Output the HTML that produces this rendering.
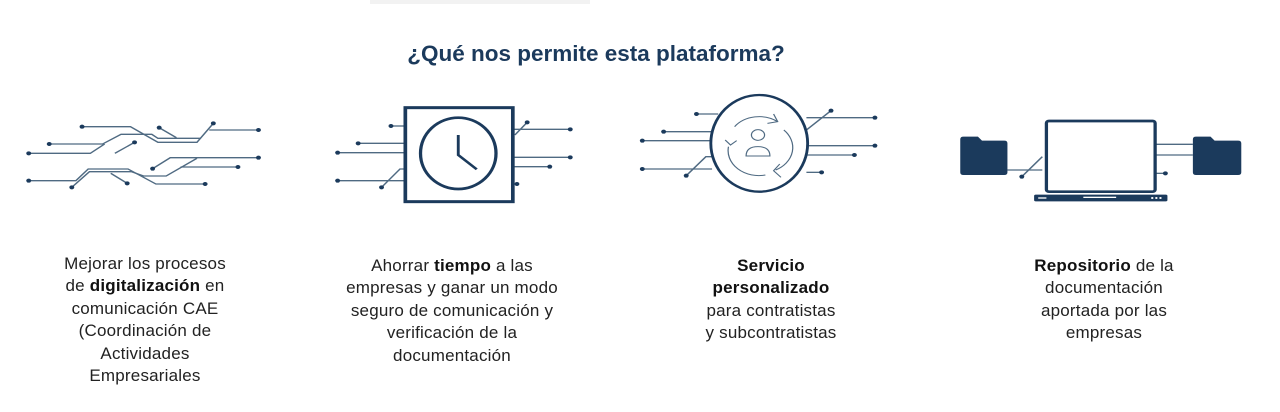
<!DOCTYPE html>
<html><head><meta charset="utf-8"><style>
body{margin:0;width:1280px;height:412px;background:#fff;position:relative;overflow:hidden;font-family:"Liberation Sans",sans-serif;}
.t{position:absolute;text-align:center;font-size:17px;line-height:22.4px;color:#222;letter-spacing:0.2px}
.t b{color:#111}
h1{position:absolute;top:41px;left:0;width:1192px;text-align:center;margin:0;font-size:22.5px;color:#1b3a5c;font-weight:bold;}
svg{position:absolute;}
</style></head><body>
<div style="position:absolute;left:370px;top:0;width:220px;height:4px;background:#f2f2f2"></div>
<h1>¿Qué nos permite esta plataforma?</h1>

<svg style="left:0;top:90px" width="640" height="130" viewBox="0 0 1560 390" preserveAspectRatio="none">
<g fill="none" stroke="#4f6a82" stroke-width="4">
<polyline points="200,110 318,110 385,157 480,157 520,100"/>
<polyline points="120,162 250,162 295,133 370,133 385,145 490,145"/>
<polyline points="70,190 220,190 255,162"/>
<polyline points="280,190 328,157"/>
<polyline points="388,113 430,143"/>
<polyline points="510,120 630,120"/>
<polyline points="70,272 185,272 215,237 312,237 380,282 500,282"/>
<polyline points="175,292 218,245 320,245 350,258 405,258 480,205"/>
<polyline points="372,236 415,203 630,203"/>
<polyline points="440,231 580,231"/>
<polyline points="270,250 310,280"/>
<polyline points="953,108 988,108"/><polyline points="873,160 988,160"/><polyline points="823,188 988,188"/>
<polyline points="823,272 988,272"/><polyline points="930,292 975,237 988,237"/>
<polyline points="1255,135 1285,97"/><polyline points="1250,118 1390,118"/><polyline points="1250,202 1390,202"/><polyline points="1250,230 1340,230"/>
</g>
<g fill="#1b3a5c">
<ellipse cx="200" cy="110" rx="6" ry="6"/><ellipse cx="520" cy="100" rx="6" ry="6"/><ellipse cx="120" cy="162" rx="6" ry="6"/><ellipse cx="70" cy="190" rx="6" ry="6"/><ellipse cx="328" cy="157" rx="6" ry="6"/><ellipse cx="388" cy="113" rx="6" ry="6"/><ellipse cx="630" cy="120" rx="6" ry="6"/><ellipse cx="70" cy="272" rx="6" ry="6"/><ellipse cx="500" cy="282" rx="6" ry="6"/><ellipse cx="175" cy="292" rx="6" ry="6"/><ellipse cx="372" cy="236" rx="6" ry="6"/><ellipse cx="630" cy="203" rx="6" ry="6"/><ellipse cx="580" cy="231" rx="6" ry="6"/><ellipse cx="310" cy="280" rx="6" ry="6"/>
<ellipse cx="953" cy="108" rx="6" ry="6"/><ellipse cx="873" cy="160" rx="6" ry="6"/><ellipse cx="823" cy="188" rx="6" ry="6"/><ellipse cx="823" cy="272" rx="6" ry="6"/><ellipse cx="930" cy="292" rx="6" ry="6"/><ellipse cx="1285" cy="97" rx="6" ry="6"/><ellipse cx="1390" cy="118" rx="6" ry="6"/><ellipse cx="1390" cy="202" rx="6" ry="6"/><ellipse cx="1340" cy="230" rx="6" ry="6"/><ellipse cx="1260" cy="282" rx="6" ry="6"/>
</g>
<g fill="none" stroke="#1b3a5c">
<rect x="988" y="53" width="262" height="282" stroke-width="9"/>
<ellipse cx="1117" cy="190" rx="92" ry="107" stroke-width="8"/>
<polyline points="1117,135 1117,195 1162,238" stroke-width="7"/>
</g>
</svg>

<svg style="left:630px;top:90px" width="640" height="130" viewBox="0 0 1560 390" preserveAspectRatio="none">
<g fill="none" stroke="#4f6a82" stroke-width="4">
<polyline points="162,72 215,72"/><polyline points="82,125 200,125"/><polyline points="30,152 195,152"/><polyline points="30,237 200,237"/><polyline points="137,257 185,200 200,200"/>
<polyline points="430,120 490,62"/><polyline points="430,83 597,83"/><polyline points="430,167 597,167"/><polyline points="430,195 547,195"/><polyline points="430,247 467,247"/>
<polyline points="920,240 1005,240"/><polyline points="955,260 1005,200"/><polyline points="1280,163 1372,163"/><polyline points="1280,195 1372,195"/><polyline points="1280,250 1305,250"/>
</g>
<g fill="#1b3a5c">
<ellipse cx="162" cy="72" rx="6" ry="6"/><ellipse cx="82" cy="125" rx="6" ry="6"/><ellipse cx="30" cy="152" rx="6" ry="6"/><ellipse cx="30" cy="237" rx="6" ry="6"/><ellipse cx="137" cy="257" rx="6" ry="6"/><ellipse cx="490" cy="62" rx="6" ry="6"/><ellipse cx="597" cy="83" rx="6" ry="6"/><ellipse cx="597" cy="167" rx="6" ry="6"/><ellipse cx="547" cy="195" rx="6" ry="6"/><ellipse cx="467" cy="247" rx="6" ry="6"/>
<ellipse cx="955" cy="260" rx="6" ry="6"/><ellipse cx="1305" cy="250" rx="6" ry="6"/>
<path d="M805,148 q0,-8 8,-8 h35 l10,12 h54 q8,0 8,8 v87 q0,8 -8,8 h-99 q-8,0 -8,-8z"/>
<path d="M1372,148 q0,-8 8,-8 h35 l10,12 h57 q8,0 8,8 v87 q0,8 -8,8 h-102 q-8,0 -8,-8z"/>
<rect x="985" y="314" width="325" height="20" rx="4"/>
</g>
<g fill="none" stroke="#1b3a5c">
<ellipse cx="315" cy="160" rx="118" ry="145" stroke-width="7"/>
<rect x="1015" y="93" width="265" height="212" rx="6" stroke-width="8"/>
<g stroke="#4f6a82" stroke-width="3">
<path d="M255,110 A75,75 0 0 1 360,95"/><path d="M350,72 L360,95 L335,100"/>
<path d="M375,120 A75,75 0 0 1 355,240"/><path d="M368,262 L350,242 L365,222"/>
<path d="M330,255 A75,75 0 0 1 240,170"/><path d="M232,150 L245,165 L260,152"/>
<ellipse cx="312" cy="135" rx="16" ry="16"/><path d="M283,198 q0,-28 29,-28 q29,0 29,28z"/>
</g>
</g>
<g fill="#fff"><rect x="1105" y="320" width="80" height="4"/><rect x="995" y="322" width="20" height="4"/><ellipse cx="1273" cy="324" rx="3" ry="3"/><ellipse cx="1283" cy="324" rx="3" ry="3"/><ellipse cx="1293" cy="324" rx="3" ry="3"/></g>
</svg>

<div class="t" style="left:15px;width:260px;top:253px">Mejorar los procesos<br>de <b>digitalización</b> en<br>comunicación CAE<br>(Coordinación de<br>Actividades<br>Empresariales</div>
<div class="t" style="left:312px;width:280px;top:255px">Ahorrar <b>tiempo</b> a las<br>empresas y ganar un modo<br>seguro de comunicación y<br>verificación de la<br>documentación</div>
<div class="t" style="left:651px;width:240px;top:255px"><b>Servicio<br>personalizado</b><br>para contratistas<br>y subcontratistas</div>
<div class="t" style="left:984px;width:240px;top:255px"><b>Repositorio</b> de la<br>documentación<br>aportada por las<br>empresas</div>
</body></html>
